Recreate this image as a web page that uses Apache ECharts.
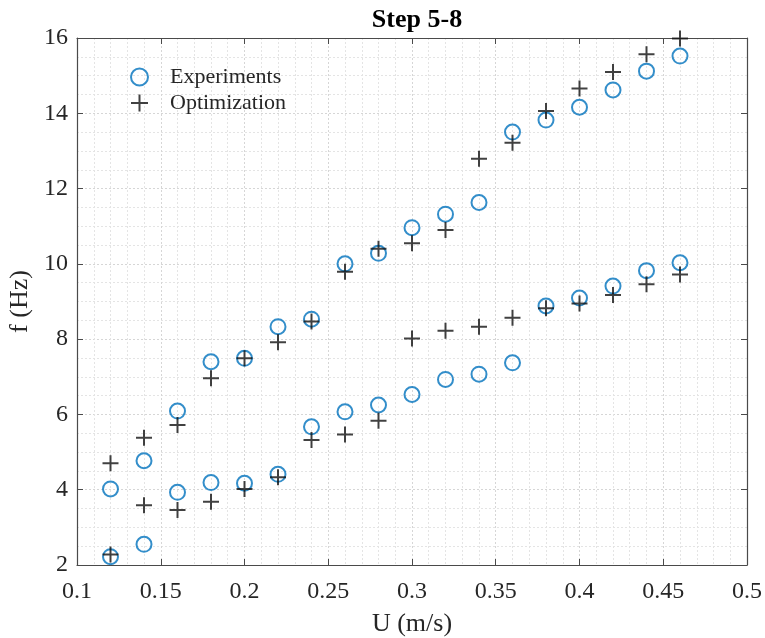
<!DOCTYPE html>
<html>
<head>
<meta charset="utf-8">
<script src="https://cdn.jsdelivr.net/npm/echarts@6/dist/echarts.min.js"></script>
<style>
  html, body { margin: 0; padding: 0; background: #fff; }
  #chart { width: 765px; height: 638px; }
</style>
</head>
<body>
<div id="chart"></div>
<script>
// Flow speed U (m/s) for every measured step
const speeds = [0.12, 0.14, 0.16, 0.18, 0.20, 0.22, 0.24, 0.26, 0.28, 0.30,
                0.32, 0.34, 0.36, 0.38, 0.40, 0.42, 0.44, 0.46];

// Measured frequencies (Hz): upper and lower branch
const expUpper = [4.02, 4.77, 6.09, 7.40, 7.49, 8.33, 8.53, 10.00, 10.28, 10.96,
                  11.32, 11.63, 13.50, 13.82, 14.16, 14.62, 15.12, 15.52];
const expLower = [2.22, 2.55, 3.93, 4.19, 4.17, 4.41, 5.67, 6.07, 6.25, 6.53,
                  6.93, 7.07, 7.37, 8.88, 9.09, 9.41, 9.82, 10.03];

// Optimised model frequencies (Hz): upper and lower branch
const optUpper = [4.70, 5.38, 5.72, 6.96, 7.49, 7.92, 8.47, 9.79, 10.40, 10.55,
                  10.90, 12.79, 13.22, 14.06, 14.66, 15.10, 15.57, 15.99];
const optLower = [2.28, 3.59, 3.46, 3.68, 4.02, 4.33, 5.32, 5.47, 5.83, 8.02,
                  8.22, 8.33, 8.57, 8.82, 8.95, 9.17, 9.46, 9.72];

const xTicks = { min: 0.1, max: 0.5, step: 0.05 };
const yTicks = { min: 2, max: 16, step: 2 };

const pairs = (xs, ys) => xs.map((x, i) => [x, ys[i]]);

const SERIF = '"Liberation Serif", "DejaVu Serif", serif';
const TEXT = '#262626';
const AXIS = '#4a4a4a';
const PLUS = 'path://M0,10L20,10M10,0L10,20';
const BLUE = '#0072BD';

const gridLine = { show: true, lineStyle: { color: '#d6d6d6', type: [2, 2], width: 1 } };
const minorLine = { show: true, lineStyle: { color: '#e4e4e4', type: [2, 2], width: 1 } };

function xAxisDef(pos, labels) {
  return {
    type: 'value', position: pos,
    min: xTicks.min, max: xTicks.max, interval: xTicks.step,
    axisLine: { show: true, onZero: false, lineStyle: { color: AXIS, width: 1.2 } },
    axisTick: { show: true, inside: true, length: 6, lineStyle: { color: AXIS } },
    axisLabel: { show: labels, fontFamily: SERIF, fontSize: 24, color: TEXT, margin: 15 },
    splitLine: labels ? gridLine : { show: false },
    minorTick: { show: false, splitNumber: 5 },
    minorSplitLine: labels ? minorLine : { show: false },
    name: labels ? 'U (m/s)' : '',
    nameLocation: 'middle', nameGap: 46,
    nameTextStyle: { fontFamily: SERIF, fontSize: 26, color: TEXT }
  };
}

function yAxisDef(pos, labels) {
  return {
    type: 'value', position: pos,
    min: yTicks.min, max: yTicks.max, interval: yTicks.step,
    axisLine: { show: true, onZero: false, lineStyle: { color: AXIS, width: 1.2 } },
    axisTick: { show: true, inside: true, length: 6, lineStyle: { color: AXIS } },
    axisLabel: { show: labels, fontFamily: SERIF, fontSize: 24, color: TEXT, margin: 9,
                 padding: [6, 0, 0, 0] },
    splitLine: labels ? gridLine : { show: false },
    minorTick: { show: false, splitNumber: 4 },
    minorSplitLine: labels ? minorLine : { show: false },
    name: labels ? 'f (Hz)' : '',
    nameLocation: 'middle', nameGap: 44, nameRotate: 90,
    nameTextStyle: { fontFamily: SERIF, fontSize: 26, color: TEXT }
  };
}

const circleStyle = { color: 'rgba(0,0,0,0)', borderColor: BLUE, borderWidth: 2 };
const plusStyle = { color: '#000', borderColor: '#111', borderWidth: 2 };

const chart = echarts.init(document.getElementById('chart'), null, { renderer: 'canvas' });
chart.setOption({
  animation: false,
  backgroundColor: '#fff',
  title: {
    text: 'Step 5-8', left: 412, top: 2, textAlign: 'center',
    textStyle: { fontFamily: SERIF, fontSize: 26, fontWeight: 'bold', color: '#000' }
  },
  grid: { left: 77, top: 38, right: 18, bottom: 73, outerBoundsMode: 'none', containLabel: false },
  legend: {
    orient: 'vertical', left: 125, top: 61,
    itemWidth: 17, itemHeight: 17, itemGap: 4,
    textStyle: { fontFamily: SERIF, fontSize: 22, color: TEXT, padding: [0, 0, 0, 17] },
    data: [
      { name: 'Experiments', icon: 'circle', itemStyle: circleStyle },
      { name: 'Optimization', icon: PLUS, itemStyle: plusStyle }
    ]
  },
  xAxis: [xAxisDef('bottom', true), xAxisDef('top', false)],
  yAxis: [yAxisDef('left', true), yAxisDef('right', false)],
  series: [
    {
      name: 'Experiments', type: 'scatter', symbol: 'circle', symbolSize: 15,
      itemStyle: circleStyle, z: 3,
      data: pairs(speeds, expUpper).concat(pairs(speeds, expLower))
    },
    {
      name: 'Optimization', type: 'scatter', symbol: PLUS, symbolSize: 16,
      itemStyle: plusStyle, z: 4,
      data: pairs(speeds, optUpper).concat(pairs(speeds, optLower))
    }
  ]
});
</script>
</body>
</html>
